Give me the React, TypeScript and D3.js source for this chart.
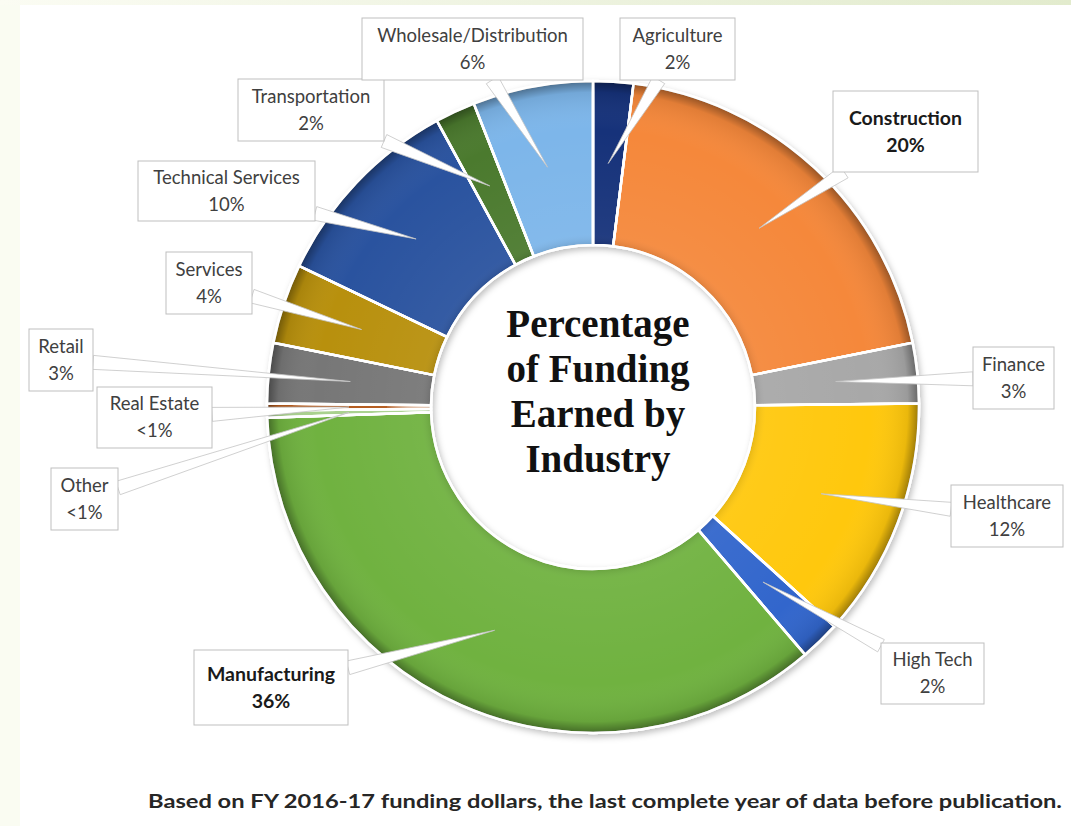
import React from "react";
import * as d3 from "d3";

// ---- data ----
const industries = [
  "Agriculture",
  "Construction",
  "Finance",
  "Healthcare",
  "High Tech",
  "Manufacturing",
  "Other",
  "Real Estate",
  "Retail",
  "Services",
  "Technical Services",
  "Transportation",
  "Wholesale/Distribution",
];
const shares = [2, 20, 3, 12, 2, 36, 0.35, 0.35, 3, 4, 10, 2, 6];
const shareLabels = ["2%", "20%", "3%", "12%", "2%", "36%", "<1%", "<1%", "3%", "4%", "10%", "2%", "6%"];
const boldLabels = ["Construction", "Manufacturing"];
const sliceColors = [
  "#14327a",
  "#f5883a",
  "#a8a8a8",
  "#ffc80a",
  "#3366cc",
  "#70b241",
  "#a9d18e",
  "#b35a1e",
  "#777777",
  "#b8900a",
  "#2a529f",
  "#4b7a2e",
  "#7db6ea",
];
const titleLines = ["Percentage", "of Funding", "Earned by", "Industry"];
const caption = "Based on FY 2016-17 funding dollars, the last complete year of data before publication.";

// ---- layout (callout boxes: x, y, w, h) ----
const calloutBoxes: [number, number, number, number][] = [
  [620, 18, 115, 62],
  [833, 91, 145, 81],
  [973, 347, 81, 62],
  [951, 485, 112, 62],
  [881, 643, 103, 61],
  [194, 650, 154, 75],
  [51, 468, 67, 62],
  [97, 387, 115, 61],
  [29, 329, 64, 62],
  [166, 252, 86, 62],
  [138, 161, 177, 60],
  [238, 79, 146, 62],
  [362, 18, 221, 62],
];

const W = 1071;
const H = 826;
const CX = 593;
const CY = 407;
const R_OUT = 326;
const R_IN = 162;

function boxEdgePoint(box: [number, number, number, number], tx: number, ty: number) {
  const [x, y, w, h] = box;
  const cx = x + w / 2;
  const cy = y + h / 2;
  const dx = tx - cx;
  const dy = ty - cy;
  const t = Math.min(Math.abs((w / 2) / (dx || 1e-6)), Math.abs((h / 2) / (dy || 1e-6)));
  return [cx + dx * t, cy + dy * t];
}

export default function App() {
  const data = industries.map((name, i) => ({ name, value: shares[i], label: shareLabels[i], color: sliceColors[i] }));
  const pie = d3.pie<any>().sort(null).value((d: any) => d.value).startAngle(0).endAngle(2 * Math.PI);
  const arcs = pie(data);
  const arc = d3.arc<any>().innerRadius(R_IN).outerRadius(R_OUT);

  const labelFont = "Lato, 'Open Sans', sans-serif";

  return (
    <svg width={W} height={H} style={{ position: "absolute", left: 0, top: 0, background: "#fff" }}>
      <defs>
        <linearGradient id="topband" x1="0" x2="1" y1="0" y2="0">
          <stop offset="0" stopColor="#fbfcf3" />
          <stop offset="0.5" stopColor="#eef3e0" />
          <stop offset="1" stopColor="#e2ebcd" />
        </linearGradient>
        <radialGradient id="shade" gradientUnits="userSpaceOnUse" cx={0} cy={0} r={R_OUT}>
          <stop offset="0.49" stopColor="#000" stopOpacity="0.15" />
          <stop offset="0.53" stopColor="#fff" stopOpacity="0.05" />
          <stop offset="0.85" stopColor="#fff" stopOpacity="0" />
          <stop offset="0.965" stopColor="#000" stopOpacity="0.08" />
          <stop offset="1" stopColor="#000" stopOpacity="0.4" />
        </radialGradient>
        <filter id="shadow" x="-20%" y="-20%" width="140%" height="140%">
          <feDropShadow dx="2" dy="3" stdDeviation="3" floodColor="#000" floodOpacity="0.25" />
        </filter>
      </defs>
      <rect x={0} y={0} width={W} height={H} fill="#fff" />
      <rect x={0} y={0} width={20} height={H} fill="#fafcf2" />
      <rect x={0} y={0} width={W} height={5} fill="url(#topband)" />

      <g transform={`translate(${CX},${CY})`}>
        <g filter="url(#shadow)">
          {arcs.map((a: any, i: number) => (
            <path key={"s" + i} d={arc(a) as string} fill={a.data.color} stroke="#fff" strokeWidth={2.5} strokeLinejoin="round" />
          ))}
        </g>
        {arcs.map((a: any, i: number) => (
          <path key={"o" + i} d={arc(a) as string} fill="url(#shade)" stroke="#fff" strokeWidth={2.5} />
        ))}
      </g>

      {/* callout wedges */}
      {arcs.map((a: any, i: number) => {
        const [cxr, cyr] = arc.centroid(a);
        const tx = CX + cxr;
        const ty = CY + cyr;
        const box = calloutBoxes[i];
        const [bx, by] = boxEdgePoint(box, tx, ty);
        const dx = tx - bx;
        const dy = ty - by;
        const len = Math.hypot(dx, dy);
        const px = (-dy / len) * 7;
        const py = (dx / len) * 7;
        const pts = `${tx},${ty} ${bx + px},${by + py} ${bx - px},${by - py}`;
        return <polygon key={"w" + i} points={pts} fill="#fff" stroke="#c4c4c4" strokeWidth={0.8} strokeLinejoin="miter" />;
      })}

      {/* callout boxes */}
      {arcs.map((a: any, i: number) => {
        const [x, y, w, h] = calloutBoxes[i];
        const bold = boldLabels.includes(a.data.name);
        return (
          <g key={"b" + i}>
            <rect x={x} y={y} width={w} height={h} fill="#fff" stroke="#bfbfbf" strokeWidth={1} />
            <text
              x={x + w / 2}
              y={y + h / 2 - 12}
              textAnchor="middle"
              dominantBaseline="middle"
              fontFamily={labelFont}
              fontSize={bold ? 19.5 : 18.5}
              fontWeight={bold ? 700 : 400}
              fill={bold ? "#1a1a1a" : "#404040"}
            >
              {a.data.name}
            </text>
            <text
              x={x + w / 2}
              y={y + h / 2 + 15}
              textAnchor="middle"
              dominantBaseline="middle"
              fontFamily={labelFont}
              fontSize={bold ? 19.5 : 18.5}
              fontWeight={bold ? 700 : 400}
              fill={bold ? "#1a1a1a" : "#404040"}
            >
              {a.data.label}
            </text>
          </g>
        );
      })}

      {/* center title */}
      {titleLines.map((t, i) => (
        <text
          key={"t" + i}
          x={598}
          y={328 + i * 45}
          textAnchor="middle"
          dominantBaseline="middle"
          fontFamily="'Liberation Serif', 'Times New Roman', serif"
          fontWeight={700}
          fontSize={39}
          fill="#111"
        >
          {t}
        </text>
      ))}

      <text
        x={605}
        y={803}
        textAnchor="middle"
        dominantBaseline="middle"
        fontFamily={labelFont}
        fontWeight={700}
        fontSize={19}
        fill="#262626"
        textLength={914}
        lengthAdjust="spacingAndGlyphs"
      >
        {caption}
      </text>
    </svg>
  );
}
